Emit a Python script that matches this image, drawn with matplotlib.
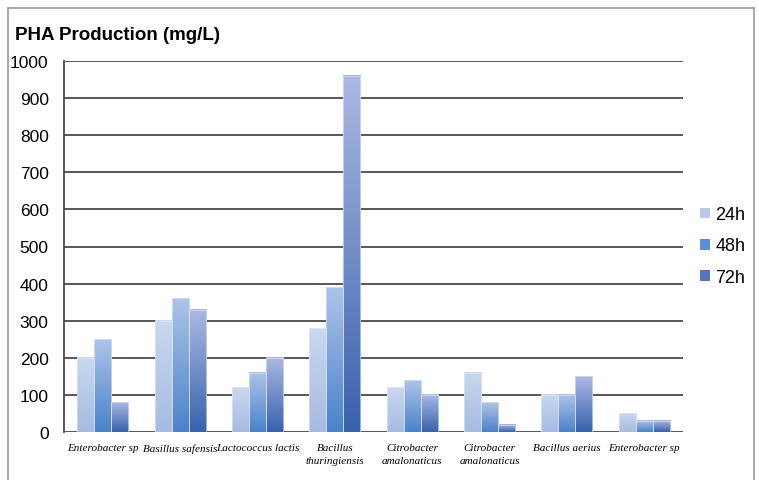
import matplotlib
matplotlib.use("Agg")
import matplotlib.pyplot as plt
import numpy as np
from matplotlib.patches import Patch, Rectangle
from matplotlib.colors import LinearSegmentedColormap

categories = ["Enterobacter sp", "Basillus safensis", "Lactococcus lactis",
              "Bacillus\nthuringiensis", "Citrobacter\namalonaticus",
              "Citrobacter\namalonaticus", "Bacillus aerius", "Enterobacter sp"]
series_names = ["24h", "48h", "72h"]
v24 = [200, 300, 120, 280, 120, 160, 100, 50]
v48 = [250, 360, 160, 390, 140, 80, 100, 30]
v72 = [80, 330, 200, 960, 100, 20, 150, 30]
yticks = [0, 100, 200, 300, 400, 500, 600, 700, 800, 900, 1000]

grads = [("#c9d8ef", "#a6bbe2"), ("#adc4e8", "#4a82ca"), ("#aab9e3", "#3862ad")]
legend_colors = ["#b7cae9", "#5b8fd4", "#5574bc"]

W, H = 759, 481
fig = plt.figure(figsize=(W/100, H/100), dpi=100)
ax = fig.add_axes([64/W, 1-433/H, (683-64)/W, (433-62)/H])

x = np.arange(len(categories))
bw = 0.22
for si, vals in enumerate([v24, v48, v72]):
    bars = ax.bar(x + (si-1)*bw, vals, bw, color="none", edgecolor="none", zorder=3)
    cmap = LinearSegmentedColormap.from_list("g%d" % si, [grads[si][1], grads[si][0]])
    grad = np.linspace(0, 1, 100).reshape(-1, 1)
    for b in bars:
        x0, w, h = b.get_x(), b.get_width(), b.get_height()
        ax.imshow(grad, cmap=cmap, origin="lower", aspect="auto",
                  extent=[x0, x0+w, 0, h], zorder=3, interpolation="bilinear")
        ax.add_patch(Rectangle((x0, 0), w, h, fill=False, edgecolor="#e8eef8",
                               linewidth=0.4, zorder=4))

ax.set_xlim(-0.5, len(categories)-0.5)
ax.set_ylim(0, 1000)
ax.set_yticks(yticks)
ax.set_yticklabels([str(t) for t in yticks], fontsize=12.5, family="Liberation Sans")
ax.yaxis.grid(True, color="#4a4a4a", linewidth=1.3, zorder=1)
ax.set_axisbelow(True)
ax.tick_params(axis="y", length=0, pad=11)
ax.tick_params(axis="x", length=0, pad=8)
ax.set_xticks(x)
ax.set_xticklabels(categories, fontsize=8, family="Liberation Serif", style="italic",
                   linespacing=1.5)
for s in ["top", "right", "bottom"]:
    ax.spines[s].set_visible(False)
ax.spines["left"].set_color("#4a4a4a")
ax.spines["left"].set_linewidth(1.3)

fig.text(15/W, 1-35/H, "PHA Production (mg/L)", fontsize=13.5, fontweight="bold",
         family="Liberation Sans", va="center", ha="left")

# outer frame
fig.add_artist(plt.Line2D([8/W, 8/W], [0, 1-9/H], color="#9a9a9a", lw=1.2))
fig.add_artist(plt.Line2D([754/W, 754/W], [0, 1-9/H], color="#9a9a9a", lw=1.2))
fig.add_artist(plt.Line2D([8/W, 754/W], [1-9/H, 1-9/H], color="#9a9a9a", lw=1.2))

handles = [Patch(facecolor=c, edgecolor="none") for c in legend_colors]
fig.legend(handles, series_names, loc="center left", bbox_to_anchor=(684/W, 1-247/H),
           frameon=False, prop={"family": "Liberation Sans", "size": 13},
           handlelength=0.55, handleheight=0.55, handletextpad=0.3, labelspacing=0.78)

fig.savefig("out.png", dpi=100)
